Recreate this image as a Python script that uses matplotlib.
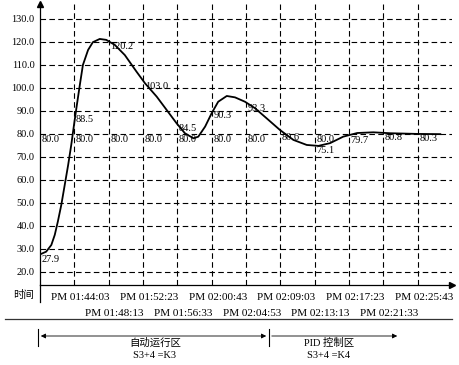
import matplotlib
matplotlib.use('Agg')
import matplotlib.pyplot as plt
from matplotlib.lines import Line2D
from matplotlib.patches import FancyArrowPatch
from matplotlib.transforms import ScaledTranslation

plt.rcParams['font.family'] = ['Liberation Serif', 'Noto Sans CJK SC']

# sample index along the time axis, one grid column = one sample
time_labels = ['PM 01:44:03', 'PM 01:48:13', 'PM 01:52:23', 'PM 01:56:33',
               'PM 02:00:43', 'PM 02:04:53', 'PM 02:09:03', 'PM 02:13:13',
               'PM 02:17:23', 'PM 02:21:33', 'PM 02:25:43']
y_ticks = [20, 30, 40, 50, 60, 70, 80, 90, 100, 110, 120, 130]

# sampled process values (labels on the curve)
pv_idx = [0, 1, 2, 3, 4, 5, 6, 7, 8, 9, 10, 11]
pv_val = [27.9, 88.5, 120.2, 103.0, 84.5, 90.3, 93.3, 80.6, 75.1, 79.7, 80.8, 80.3]

# setpoint labels
sp_idx = [0, 1, 2, 3, 4, 5, 6, 8]
sp_val = [80.0, 80.0, 80.0, 80.0, 80.0, 80.0, 80.0, 80.0]

# the drawn response curve
curve_x = [0.0, 0.18, 0.33, 0.43, 0.52, 0.62, 0.72, 0.82, 0.91, 0.99, 1.06, 1.16,
           1.25, 1.40, 1.54, 1.74, 1.93, 2.18, 2.47, 2.81, 3.06, 3.40, 3.69, 3.98,
           4.22, 4.47, 4.61, 4.81, 5.00, 5.19, 5.44, 5.68, 5.97, 6.26, 6.60, 6.99,
           7.38, 7.77, 8.11, 8.45, 8.83, 9.24, 9.71, 10.2, 10.99, 11.66]
curve_y = [27.6, 28.8, 31.7, 36.1, 41.9, 49.1, 57.8, 66.5, 75.2, 83.9, 91.2, 101.3,
           110.0, 116.5, 119.9, 121.3, 120.9, 118.7, 114.3, 107.1, 102.0, 96.2, 90.4, 84.6,
           80.3, 78.1, 78.8, 83.2, 89.0, 94.0, 96.5, 95.9, 94.0, 91.2, 86.8, 81.7,
           77.4, 75.2, 74.8, 76.0, 78.8, 80.4, 80.7, 80.3, 80.0, 79.9]

W, H = 460, 365
fx = lambda px: px / W
fy = lambda py: 1 - py / H

fig = plt.figure(figsize=(4.6, 3.65), dpi=100)
ax = fig.add_axes([fx(40), fy(285), (452 - 40) / W, (285 - 4) / H])
ax.set_xlim(0, 12)
ax.set_ylim(14.3, 136.5)

ax.set_yticks(y_ticks)
ax.set_yticklabels(['%.1f' % v for v in y_ticks], fontsize=7.5)
# odd columns label on the upper row, even columns on the lower row
ax.set_xticks(range(1, 12, 2))
ax.set_xticklabels(time_labels[0::2], fontsize=8)
ax.set_xticks(range(2, 12, 2), minor=True)
ax.set_xticklabels(time_labels[1::2], minor=True, fontsize=8)
ax.tick_params(which='both', length=0)
ax.tick_params(axis='y', pad=4)
ax.tick_params(axis='x', which='major', pad=6)
ax.tick_params(axis='x', which='minor', pad=17)
shift = ScaledTranslation(6 / 100, 0, fig.dpi_scale_trans)
for lbl in ax.get_xticklabels(which='both'):
    lbl.set_transform(lbl.get_transform() + shift)
ax.grid(True, which='both', ls=(0, (5, 3)), color='k', lw=0.8)
ax.set_axisbelow(True)
for s in ['top', 'right']:
    ax.spines[s].set_visible(False)
for s in ['left', 'bottom']:
    ax.spines[s].set_linewidth(0.9)

ax.plot(curve_x, curve_y, color='k', lw=1.3, solid_joinstyle='round')

for i, v in zip(sp_idx, sp_val):
    ax.text(i + 0.05, v - 0.4, '%.1f' % v, fontsize=7.5, va='top', ha='left')
for i, v in zip(pv_idx, pv_val):
    ax.text(i + 0.05, v - 0.4, '%.1f' % v, fontsize=7.5, va='top', ha='left')

# axis arrows
ax.plot(0, 1, marker='^', ms=4, color='k', transform=ax.transAxes, clip_on=False)
ax.plot(1, 0, marker='>', ms=4, color='k', transform=ax.transAxes, clip_on=False)

# bottom annotations
fig.add_artist(Line2D([fx(40), fx(40)], [fy(285), fy(302)], color='k', lw=0.9))
fig.text(fx(24), fy(295), '时间', fontsize=7.5, ha='center', va='center')
fig.add_artist(Line2D([fx(5), fx(452)], [fy(319), fy(319)], color='#333333', lw=0.9))

for px in [38, 269]:
    fig.add_artist(Line2D([fx(px), fx(px)], [fy(329), fy(346)], color='k', lw=0.8))
fig.add_artist(FancyArrowPatch((fx(38), fy(336)), (fx(269), fy(336)), arrowstyle='<|-|>',
                               mutation_scale=7, color='k', lw=0.6,
                               transform=fig.transFigure))
fig.add_artist(FancyArrowPatch((fx(269), fy(336)), (fx(400), fy(336)), arrowstyle='-|>',
                               mutation_scale=7, color='k', lw=0.6,
                               transform=fig.transFigure))
fig.text(fx(155), fy(343), '自动运行区', fontsize=7.5, ha='center', va='center')
fig.text(fx(155), fy(355), 'S3+4 =K3', fontsize=7.5, ha='center', va='center')
fig.text(fx(329), fy(343), 'PID 控制区', fontsize=7.5, ha='center', va='center')
fig.text(fx(329), fy(355), 'S3+4 =K4', fontsize=7.5, ha='center', va='center')

fig.savefig('out.png', dpi=100)
